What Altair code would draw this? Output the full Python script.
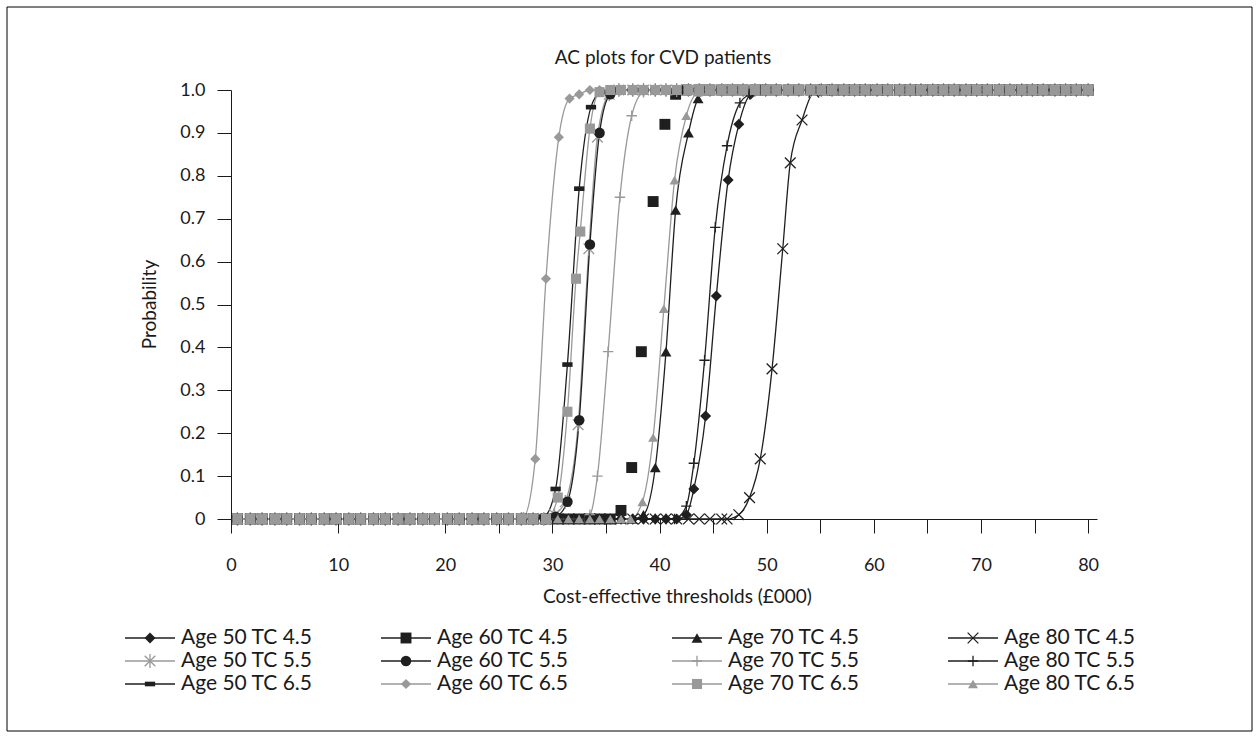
import altair as alt
import pandas as pd

TITLE = "AC plots for CVD patients"

SERIES = ["Age 50 TC 4.5", "Age 60 TC 4.5", "Age 70 TC 4.5", "Age 80 TC 4.5",
          "Age 50 TC 5.5", "Age 60 TC 5.5", "Age 70 TC 5.5", "Age 80 TC 5.5",
          "Age 50 TC 6.5", "Age 60 TC 6.5", "Age 70 TC 6.5", "Age 80 TC 6.5"]

# thresholds (£000) at which every curve is evaluated
GRID = [0.6, 1.8, 2.9, 4.1, 5.2, 6.4, 7.5, 8.7, 9.8, 11.0, 12.1, 13.3, 14.4, 15.6,
        16.7, 17.9, 19.0, 20.2, 21.3, 22.5, 23.6, 24.8, 25.9, 27.1, 28.2, 29.4,
        30.5, 31.5, 32.5, 33.5, 34.4, 35.4, 36.4, 37.5, 38.5, 39.6, 40.6, 41.6,
        42.7, 43.7, 44.7, 45.8, 46.8, 47.8, 48.9, 49.9, 50.9, 52.0, 53.0, 54.1,
        55.1, 56.1, 57.2, 58.2, 59.2, 60.3, 61.3, 62.4, 63.4, 64.4, 65.5, 66.5,
        67.5, 68.6, 69.6, 70.6, 71.7, 72.7, 73.8, 74.8, 75.8, 76.9, 77.9, 78.9, 80.0]

# rising part of each curve
A50_45_X = [41.6, 42.5, 43.2, 44.3, 45.3, 46.4, 47.4, 48.5, 49.6]
A50_45_Y = [0.0, 0.01, 0.07, 0.24, 0.52, 0.79, 0.92, 0.99, 1.0]
A60_45_X = [35.4, 36.4, 37.4, 38.3, 39.4, 40.5, 41.5, 42.5]
A60_45_Y = [0.0, 0.02, 0.12, 0.39, 0.74, 0.92, 0.99, 1.0]
A70_45_X = [37.4, 38.5, 39.6, 40.6, 41.5, 42.7, 43.6, 44.6]
A70_45_Y = [0.0, 0.01, 0.12, 0.39, 0.72, 0.90, 0.98, 1.0]
A80_45_X = [46.3, 47.4, 48.4, 49.4, 50.5, 51.5, 52.2, 53.3, 54.4, 55.4]
A80_45_Y = [0.0, 0.01, 0.05, 0.14, 0.35, 0.63, 0.83, 0.93, 0.995, 1.0]
A50_55_X = [29.2, 30.2, 31.2, 32.4, 33.4, 34.2, 35.3, 36.2]
A50_55_Y = [0.0, 0.01, 0.04, 0.22, 0.63, 0.89, 0.99, 1.0]
A60_55_X = [29.3, 30.3, 31.4, 32.5, 33.5, 34.4, 35.4, 36.3]
A60_55_Y = [0.0, 0.005, 0.04, 0.23, 0.64, 0.90, 0.99, 1.0]
A70_55_X = [32.5, 33.5, 34.2, 35.2, 36.3, 37.4, 38.5, 39.5]
A70_55_Y = [0.0, 0.01, 0.10, 0.39, 0.75, 0.94, 0.995, 1.0]
A80_55_X = [41.4, 42.5, 43.2, 44.2, 45.2, 46.3, 47.5, 48.4, 49.4]
A80_55_Y = [0.0, 0.03, 0.13, 0.37, 0.68, 0.87, 0.97, 0.99, 1.0]
A50_65_X = [28.2, 29.2, 30.3, 31.4, 32.5, 33.6, 34.5, 35.6]
A50_65_Y = [0.0, 0.005, 0.07, 0.36, 0.77, 0.96, 0.995, 1.0]
A60_65_X = [27.3, 28.4, 29.4, 30.6, 31.6, 32.5, 33.5, 34.4]
A60_65_Y = [0.005, 0.14, 0.56, 0.89, 0.98, 0.99, 1.0, 1.0]
A70_65_X = [29.4, 30.5, 31.4, 32.2, 32.6, 33.5, 34.4, 35.4]
A70_65_Y = [0.0, 0.05, 0.25, 0.56, 0.67, 0.91, 0.995, 1.0]
A80_65_X = [37.3, 38.4, 39.4, 40.4, 41.4, 42.5, 43.6, 44.6]
A80_65_Y = [0.0, 0.04, 0.19, 0.49, 0.79, 0.94, 0.995, 1.0]

RISES = [(A50_45_X, A50_45_Y), (A60_45_X, A60_45_Y), (A70_45_X, A70_45_Y), (A80_45_X, A80_45_Y),
         (A50_55_X, A50_55_Y), (A60_55_X, A60_55_Y), (A70_55_X, A70_55_Y), (A80_55_X, A80_55_Y),
         (A50_65_X, A50_65_Y), (A60_65_X, A60_65_Y), (A70_65_X, A70_65_Y), (A80_65_X, A80_65_Y)]

NO_LINE = ["Age 60 TC 4.5"]

BLACK = "#1f1f1f"
GRAY = "#999999"
NONE = "transparent"

X_PATH = "M-1,-1L1,1M-1,1L1,-1"
STAR_PATH = "M-1,-1L1,1M-1,1L1,-1M0,-1.3L0,1.3"
PLUS_PATH = "M-1,0L1,0M0,-1L0,1"
DASH_PATH = "M-1,-0.45L1,-0.45L1,0.45L-1,0.45Z"

SHAPES = ["diamond", "square", "triangle-up", X_PATH,
          STAR_PATH, "circle", PLUS_PATH, PLUS_PATH,
          DASH_PATH, "diamond", "square", "triangle-up"]
FILLS = [BLACK, BLACK, BLACK, NONE, NONE, BLACK, NONE, NONE, BLACK, GRAY, GRAY, GRAY]
STROKES = [NONE, NONE, NONE, BLACK, GRAY, NONE, GRAY, BLACK, NONE, NONE, NONE, NONE]
LINES = [BLACK, BLACK, BLACK, BLACK, GRAY, BLACK, GRAY, BLACK, BLACK, GRAY, GRAY, GRAY]
SIZES = [121, 100, 115, 100, 110, 70, 140, 150, 100, 144, 95, 120]

FONT = "Lato"
TXT = "#1a1a1a"

rows = []
for name, (xs, ys) in zip(SERIES, RISES):
    pts = [(g, 0.0) for g in GRID if g < xs[0] - 0.4]
    pts += list(zip(xs, ys))
    pts += [(g, 1.0) for g in GRID if g > xs[-1] + 0.4]
    for x, y in pts:
        rows.append({"series": name, "x": x, "y": y})
df = pd.DataFrame(rows)

leg = pd.DataFrame({"series": SERIES,
                    "col": [i % 4 for i in range(len(SERIES))],
                    "row": [i // 4 for i in range(len(SERIES))]})

W, H = 866, 429

color_sc = alt.Scale(domain=SERIES, range=LINES)
fill_sc = alt.Scale(domain=SERIES, range=FILLS)
stroke_sc = alt.Scale(domain=SERIES, range=STROKES)
shape_sc = alt.Scale(domain=SERIES, range=SHAPES)
size_sc = alt.Scale(domain=SERIES, range=SIZES)

x_sc = alt.Scale(domain=[0, 80.83], nice=False, zero=False)
y_sc = alt.Scale(domain=[0, 1], nice=False)

x_axis = alt.Axis(values=[0, 10, 20, 25, 30, 35, 40, 45, 50, 55, 60, 65, 70, 75, 80],
                  labelExpr="datum.value % 10 == 0 ? datum.label : ''",
                  title="Cost-effective thresholds (£000)", grid=False,
                  tickSize=14, labelPadding=23, labelFlush=False,
                  titleX=446, titleY=77, titleBaseline="middle", titleAlign="center")
y_axis = alt.Axis(values=[0, 0.1, 0.2, 0.3, 0.4, 0.5, 0.6, 0.7, 0.8, 0.9, 1.0],
                  labelExpr="datum.value == 0 ? '0' : format(datum.value, '.1f')",
                  title="Probability", grid=False, tickSize=14, labelPadding=12,
                  titleX=-82, titleY=214, titleBaseline="middle", titleAlign="center")

lines = alt.Chart(df).transform_filter(
    alt.FieldOneOfPredicate(field="series", oneOf=[s for s in SERIES if s not in NO_LINE])
).mark_line(interpolate="monotone", strokeWidth=1.3).encode(
    x=alt.X("x:Q", scale=x_sc, axis=x_axis),
    y=alt.Y("y:Q", scale=y_sc, axis=y_axis),
    color=alt.Color("series:N", scale=color_sc, legend=None),
)

points = alt.Chart(df).mark_point(opacity=1, strokeWidth=1.3).encode(
    x=alt.X("x:Q", scale=x_sc),
    y=alt.Y("y:Q", scale=y_sc),
    shape=alt.Shape("series:N", scale=shape_sc, legend=None),
    fill=alt.Fill("series:N", scale=fill_sc, legend=None),
    stroke=alt.Stroke("series:N", scale=stroke_sc, legend=None),
    size=alt.Size("series:O", scale=size_sc, legend=None),
)

plot = alt.layer(lines, points)

# legend grid: line-start positions of the four columns and centres of the three rows
lx = alt.Scale(domain=[0, 1, 2, 3], range=[-106, 150, 441, 717])
ly = alt.Scale(domain=[0, 2], range=[548, 594])

leg_line = alt.Chart(leg).mark_rule(strokeWidth=1.3, x2Offset=50).encode(
    x=alt.X("col:Q", scale=lx, axis=None),
    x2="col:Q",
    y=alt.Y("row:Q", scale=ly, axis=None),
    color=alt.Color("series:N", scale=color_sc, legend=None),
)
leg_pt = alt.Chart(leg).mark_point(opacity=1, strokeWidth=1.3, xOffset=25).encode(
    x=alt.X("col:Q", scale=lx, axis=None),
    y=alt.Y("row:Q", scale=ly, axis=None),
    shape=alt.Shape("series:N", scale=shape_sc, legend=None),
    fill=alt.Fill("series:N", scale=fill_sc, legend=None),
    stroke=alt.Stroke("series:N", scale=stroke_sc, legend=None),
    size=alt.Size("series:O", scale=size_sc, legend=None),
)
leg_txt = alt.Chart(leg).mark_text(align="left", baseline="middle", dx=56,
                                   fontSize=21, font=FONT, color=TXT).encode(
    x=alt.X("col:Q", scale=lx, axis=None),
    y=alt.Y("row:Q", scale=ly, axis=None),
    text="series:N",
)
frame = alt.Chart(pd.DataFrame({"a": [0]})).mark_rect(
    filled=False, stroke="#000000", strokeWidth=1
).encode(x=alt.value(-224), x2=alt.value(1021), y=alt.value(-83), y2=alt.value(641))

title = alt.Chart(pd.DataFrame({"t": [TITLE]})).mark_text(
    align="center", baseline="middle", fontSize=19, font=FONT, color=TXT
).encode(x=alt.value(432), y=alt.value(-32), text="t:N")

legend = alt.layer(leg_line, leg_pt, leg_txt, frame, title)

chart = alt.layer(plot, legend).resolve_scale(x="independent", y="independent").properties(
    width=W, height=H,
    autosize=alt.AutoSizeParams(type="none"),
    padding={"left": 231, "top": 90, "right": 162, "bottom": 219},
).configure_view(strokeWidth=0).configure_axis(
    labelFont=FONT, titleFont=FONT, labelFontSize=18, titleFontSize=19,
    labelColor=TXT, titleColor=TXT, titleFontWeight="normal",
    domainColor=TXT, tickColor=TXT, domainWidth=1, tickWidth=1,
)

chart.save("out.html", embed_options={"renderer": "svg", "actions": False})
